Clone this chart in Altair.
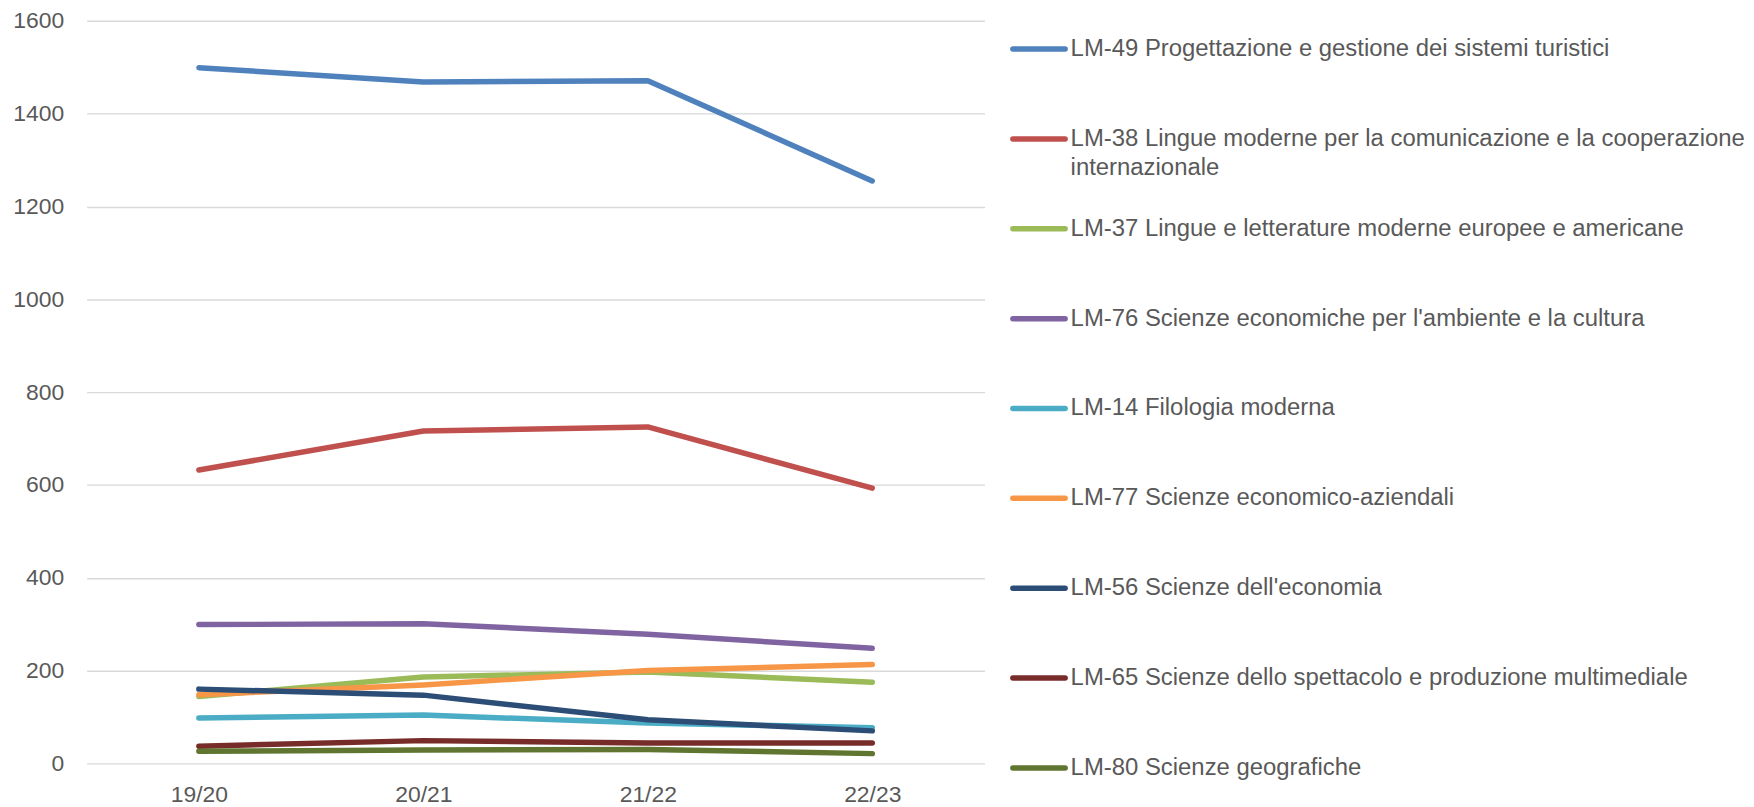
import altair as alt
import pandas as pd

years = ["19/20", "20/21", "21/22", "22/23"]

series = [
    "LM-49 Progettazione e gestione dei sistemi turistici",
    "LM-38 Lingue moderne per la comunicazione e la cooperazione internazionale",
    "LM-37 Lingue e letterature moderne europee e americane",
    "LM-76 Scienze economiche per l'ambiente e la cultura",
    "LM-14 Filologia moderna",
    "LM-77 Scienze economico-aziendali",
    "LM-56 Scienze dell'economia",
    "LM-65 Scienze dello spettacolo e produzione multimediale",
    "LM-80 Scienze geografiche",
]

# legend label lines (first line / continuation line)
label_line1 = [
    "LM-49 Progettazione e gestione dei sistemi turistici",
    "LM-38 Lingue moderne per la comunicazione e la cooperazione",
    "LM-37 Lingue e letterature moderne europee e americane",
    "LM-76 Scienze economiche per l'ambiente e la cultura",
    "LM-14 Filologia moderna",
    "LM-77 Scienze economico-aziendali",
    "LM-56 Scienze dell'economia",
    "LM-65 Scienze dello spettacolo e produzione multimediale",
    "LM-80 Scienze geografiche",
]
label_line2 = ["", "internazionale", "", "", "", "", "", "", ""]

lm49 = [1499, 1468, 1471, 1255]
lm38 = [632, 716, 725, 593]
lm37 = [144, 186, 197, 175]
lm76 = [299, 301, 278, 248]
lm14 = [98, 104, 87, 77]
lm77 = [148, 169, 200, 213]
lm56 = [160, 147, 94, 70]
lm65 = [37, 49, 44, 44]
lm80 = [26, 29, 30, 21]

values = [lm49, lm38, lm37, lm76, lm14, lm77, lm56, lm65, lm80]

colors = ["#4F81BD", "#C0504D", "#9BBB59", "#8064A2", "#4BACC6",
          "#F79646", "#2C4D75", "#772C2A", "#5F7530"]

rows = []
for s, vals in zip(series, values):
    for y, v in zip(years, vals):
        rows.append({"series": s, "year": y, "value": v})
df = pd.DataFrame(rows)

leg_df = pd.DataFrame({"series": series, "l1": label_line1, "l2": label_line2})

FONT = "Liberation Sans"
TXT = "#595959"

color_scale = alt.Scale(domain=series, range=colors)

lines = alt.Chart(df).mark_line(
    strokeWidth=5.5, strokeCap="round", strokeJoin="round"
).encode(
    x=alt.X("year:N", sort=years, title=None,
            scale=alt.Scale(type="point", padding=0.5),
            axis=alt.Axis(labelAngle=0, domain=False, ticks=False,
                          labelPadding=20, labelFontSize=23, labelFont=FONT,
                          labelColor=TXT, labelBaseline="top")),
    y=alt.Y("value:Q", title=None,
            scale=alt.Scale(domain=[0, 1600], nice=False, zero=True),
            axis=alt.Axis(values=list(range(0, 1601, 200)), format="d",
                          domain=False, ticks=False,
                          labelPadding=23, labelFontSize=23, labelFont=FONT,
                          labelColor=TXT, gridColor="#D9D9D9", gridWidth=1.4)),
    color=alt.Color("series:N", scale=color_scale, legend=None),
    order=alt.Order("year:N"),
).properties(width=902, height=746)

leg_y = alt.Y("series:N", sort=series, axis=None,
              scale=alt.Scale(type="point", padding=0.315))

leg_rule = alt.Chart(leg_df).mark_rule(strokeWidth=5.5, strokeCap="round").encode(
    y=leg_y,
    x=alt.value(3.5),
    x2=alt.value(56),
    color=alt.Color("series:N", scale=color_scale, legend=None),
)
leg_text1 = alt.Chart(leg_df).mark_text(
    align="left", baseline="middle", fontSize=24, font=FONT, color=TXT
).encode(y=leg_y, x=alt.value(61.5), text="l1:N")
leg_text2 = alt.Chart(leg_df).mark_text(
    align="left", baseline="middle", fontSize=24, font=FONT, color=TXT, dy=29
).encode(y=leg_y, x=alt.value(61.5), text="l2:N")

legend = alt.layer(leg_rule, leg_text1, leg_text2).properties(width=700, height=779)

chart = alt.hconcat(lines, legend, spacing=25, bounds="flush").properties(
    padding={"left": 4, "top": 0, "right": 0, "bottom": 0}
).configure_view(strokeWidth=0, stroke=None)

chart.save("out.html", embed_options={"renderer": "svg", "actions": False})
